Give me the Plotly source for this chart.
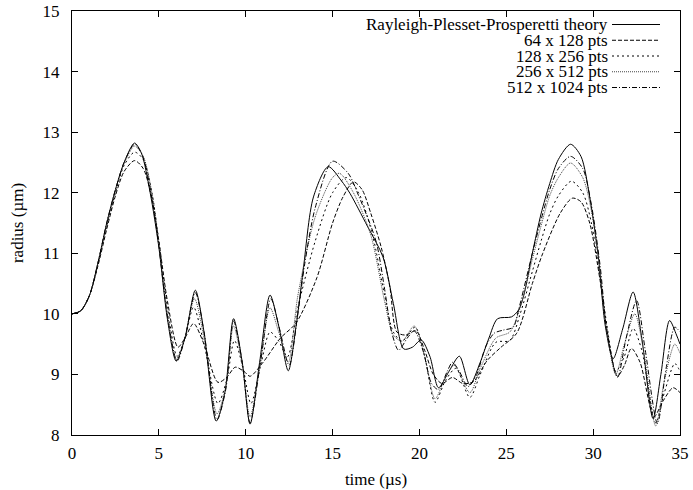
import plotly.graph_objects as go

# ---------------- data ----------------
names = ["Rayleigh-Plesset-Prosperetti theory", "64 x 128 pts", "128 x 256 pts",
         "256 x 512 pts", "512 x 1024 pts"]

t_theory = [0, 0.5, 1.0, 1.5, 2.0, 2.5, 3.0, 3.6, 4.0, 4.5, 5.0, 5.5, 6.0, 6.5, 7.1, 7.6,
            8.3, 8.8, 9.3, 9.8, 10.25, 10.8, 11.4, 11.9, 12.45, 12.9, 13.3, 13.9, 14.75,
            15.5, 16.0, 17.0, 17.9, 18.5, 19.1, 19.6, 20.1, 20.6, 21.1, 21.7, 22.3, 22.9,
            23.5, 24.0, 24.5, 25.3, 25.7, 26.0, 26.5, 27.0, 27.5, 28.0, 28.7, 29.3, 29.8,
            30.3, 30.7, 31.15, 31.7, 32.3, 32.8, 33.45, 33.9, 34.4, 34.8, 35.0]
r_theory = [10.0, 10.05, 10.3, 10.85, 11.5, 12.05, 12.5, 12.82, 12.65, 12.0, 11.1, 9.9,
            9.22, 9.6, 10.39, 9.7, 8.23, 8.7, 9.92, 9.2, 8.18, 9.2, 10.31, 9.8, 9.06, 9.8,
            10.7, 11.93, 12.43, 12.2, 11.99, 11.45, 10.94, 10.17, 9.42, 9.45, 9.57, 9.3,
            8.78, 9.05, 9.3, 8.83, 9.2, 9.6, 9.92, 9.95, 10.06, 10.3, 11.0, 11.65, 12.15,
            12.55, 12.8, 12.6, 11.93, 10.94, 9.8, 9.26, 9.75, 10.36, 9.6, 8.27, 9.0, 9.89,
            9.65, 9.5]

t_64 = [0, 0.5, 1.0, 1.5, 2.0, 2.5, 3.0, 3.6, 4.1, 4.6, 5.0, 5.5, 6.1, 6.5, 7.0, 7.6,
        8.4, 8.9, 9.4, 9.9, 10.25, 11.0, 12.0, 12.9, 14.1, 15.0, 15.6, 16.2, 16.7, 17.2,
        17.8, 18.3, 18.7, 19.2, 19.8, 20.3, 20.8, 21.3, 21.9, 22.5, 23.1, 23.9, 24.7,
        25.6, 26.5, 27.1, 28.1, 28.8, 29.3, 29.8, 30.4, 30.8, 31.4, 31.8, 32.2, 32.7,
        33.5, 34.0, 34.6, 35.0]
r_64 = [10.0, 10.05, 10.3, 10.8, 11.4, 11.95, 12.35, 12.53, 12.4, 11.9, 11.2, 10.2, 9.45,
        9.6, 9.84, 9.5, 8.87, 8.95, 9.12, 9.05, 8.97, 9.2, 9.6, 9.85, 10.6, 11.5, 11.93,
        12.18, 12.05, 11.66, 11.1, 10.44, 9.7, 9.65, 9.72, 9.4, 9.0, 8.85, 8.95, 8.85,
        8.88, 9.23, 9.45, 9.68, 10.5, 11.0, 11.66, 11.91, 11.85, 11.5, 10.55, 9.73, 8.97,
        9.15, 9.43, 9.2, 8.3, 8.55, 8.78, 8.7]

t_128 = [0, 0.5, 1.0, 1.5, 2.0, 2.5, 3.0, 3.6, 4.1, 4.6, 5.0, 5.5, 6.05, 6.5, 7.0, 7.6,
         8.4, 8.9, 9.35, 9.85, 10.3, 10.9, 11.4, 11.9, 12.4, 13.0, 14.0, 15.0, 15.8, 16.5,
         17.3, 18.0, 18.5, 19.0, 19.75, 20.3, 20.9, 21.5, 22.1, 22.9, 23.5, 24.4, 25.2,
         25.8, 26.5, 27.0, 27.5, 28.0, 28.75, 29.4, 29.9, 30.4, 30.8, 31.3, 31.8, 32.3,
         32.8, 33.6, 34.1, 34.7, 35.0]
r_128 = [10.0, 10.05, 10.3, 10.83, 11.45, 12.0, 12.45, 12.67, 12.55, 12.0, 11.2, 10.1,
         9.3, 9.6, 10.11, 9.5, 8.52, 8.9, 9.56, 9.1, 8.52, 9.2, 9.7, 9.55, 9.29, 10.1,
         11.2, 12.0, 12.25, 12.0, 11.3, 10.3, 9.7, 9.55, 9.78, 9.3, 8.54, 8.9, 9.1, 8.62,
         9.0, 9.53, 9.56, 10.0, 10.7, 11.2, 11.65, 11.95, 12.19, 12.0, 11.5, 10.6, 9.8,
         9.05, 9.3, 9.76, 9.4, 8.2, 8.7, 9.18, 9.05]

t_256 = [0, 0.5, 1.0, 1.5, 2.0, 2.5, 3.0, 3.6, 4.1, 4.6, 5.0, 5.5, 6.0, 6.5, 7.05, 7.6,
         8.35, 8.85, 9.3, 9.8, 10.25, 10.85, 11.4, 11.9, 12.45, 13.0, 14.0, 15.0, 15.4,
         16.2, 17.2, 18.0, 18.5, 19.0, 19.7, 20.3, 20.9, 21.5, 22.0, 22.9, 23.5, 24.4,
         25.2, 25.8, 26.5, 27.0, 27.5, 28.0, 28.7, 29.4, 29.9, 30.4, 30.8, 31.3, 31.8,
         32.4, 32.9, 33.6, 34.1, 34.7, 35.0]
r_256 = [10.0, 10.05, 10.3, 10.84, 11.48, 12.03, 12.48, 12.77, 12.6, 12.0, 11.15, 10.0,
         9.25, 9.6, 10.25, 9.6, 8.35, 8.8, 9.8, 9.15, 8.3, 9.2, 10.1, 9.7, 9.2, 10.3,
         11.6, 12.25, 12.32, 12.0, 11.3, 10.2, 9.65, 9.55, 9.8, 9.3, 8.6, 8.95, 9.15, 8.7,
         9.1, 9.6, 9.7, 10.1, 10.9, 11.45, 11.95, 12.25, 12.49, 12.25, 11.7, 10.7, 9.7,
         9.0, 9.5, 10.0, 9.4, 8.15, 8.9, 9.5, 9.35]

t_512 = [0, 0.5, 1.0, 1.5, 2.0, 2.5, 3.0, 3.6, 4.05, 4.55, 5.0, 5.5, 6.05, 6.5, 7.1,
         7.6, 8.35, 8.85, 9.3, 9.8, 10.25, 10.85, 11.45, 11.95, 12.5, 13.0, 13.4, 14.0,
         15.0, 15.9, 16.5, 17.5, 18.0, 18.4, 18.8, 19.3, 19.7, 20.2, 20.7, 21.1, 21.6,
         21.9, 22.3, 22.8, 23.3, 23.8, 24.3, 24.8, 25.4, 25.7, 26.5, 27.0, 27.5, 28.0,
         28.7, 29.4, 29.9, 30.4, 30.8, 31.4, 31.9, 32.5, 33.0, 33.7, 34.2, 34.7, 35.0]
r_512 = [10.0, 10.05, 10.3, 10.85, 11.5, 12.05, 12.5, 12.8, 12.62, 12.0, 11.12, 9.95,
         9.22, 9.6, 10.35, 9.7, 8.25, 8.75, 9.88, 9.2, 8.2, 9.2, 10.25, 9.75, 9.15, 10.0,
         10.83, 11.75, 12.52, 12.32, 11.95, 11.2, 10.4, 9.7, 9.4, 9.6, 9.72, 9.4, 8.85,
         8.75, 9.05, 9.2, 9.05, 8.8, 9.0, 9.45, 9.68, 9.73, 9.78, 10.06, 11.0, 11.55,
         12.05, 12.4, 12.6, 12.4, 11.8, 10.8, 9.7, 8.95, 9.6, 10.22, 9.4, 8.19, 9.1, 9.78,
         9.7]

x_ticks = [0, 5, 10, 15, 20, 25, 30, 35]
y_ticks = [8, 9, 10, 11, 12, 13, 14, 15]

# ---------------- styles ----------------
FONT = "Liberation Serif"
FS = 17
dashes = ["solid", "4px,2px", "2px,3px", "1px,1px", "5px,2px,1px,2px"]
widths = [1.0, 1.0, 1.0, 1.0, 1.0]
colors = ["black", "black", "black", "#444", "black"]

series = [(t_theory, r_theory), (t_64, r_64), (t_128, r_128), (t_256, r_256), (t_512, r_512)]

fig = go.Figure()
for (tt, rr), nm, d, w, c in zip(series, names, dashes, widths, colors):
    fig.add_trace(go.Scatter(x=tt, y=rr, mode="lines", name=nm, showlegend=False,
                             line=dict(color=c, width=w, dash=d, shape="spline",
                                       smoothing=0.8)))

# gnuplot-like key: text right-aligned, line sample to its right
L, R, T, B = 72, 13, 11, 55
W, H = 693, 490
pw, ph = W - L - R, H - T - B
for i, (nm, d, w, c) in enumerate(zip(names, dashes, widths, colors)):
    py = 24.5 + 15.75 * i
    yp = 1 - (py - T) / ph
    fig.add_annotation(xref="paper", yref="paper", x=(609 - L) / pw, y=yp,
                       text=nm, showarrow=False, xanchor="right", yanchor="middle",
                       borderpad=0,
                       font=dict(family=FONT, size=FS, color="black"))
    fig.add_shape(type="line", xref="paper", yref="paper",
                  x0=(612 - L) / pw, x1=(660 - L) / pw, y0=yp, y1=yp,
                  line=dict(color=c, width=w, dash=d))

axis_common = dict(showline=True, linecolor="black", linewidth=1, mirror="ticks",
                   ticks="inside", ticklen=6, tickwidth=1, tickcolor="black",
                   showgrid=False, zeroline=False, automargin=False,
                   tickfont=dict(family=FONT, size=FS, color="black"))

fig.update_xaxes(range=[0, 35], tickvals=x_ticks, ticktext=[str(v) for v in x_ticks],
                 title=dict(text="time (µs)", font=dict(family=FONT, size=FS, color="black"),
                            standoff=10),
                 ticklabelstandoff=3, **axis_common)
fig.update_yaxes(range=[8, 15], tickvals=y_ticks, ticktext=[str(v) for v in y_ticks],
                 title=dict(text="radius (µm)", font=dict(family=FONT, size=FS, color="black"),
                            standoff=14),
                 ticklabelstandoff=8, **axis_common)

fig.update_layout(width=W, height=H, margin=dict(l=L, r=R, t=T, b=B),
                  plot_bgcolor="white", paper_bgcolor="white",
                  font=dict(family=FONT, size=FS, color="black"))

fig.write_html("out.html")
